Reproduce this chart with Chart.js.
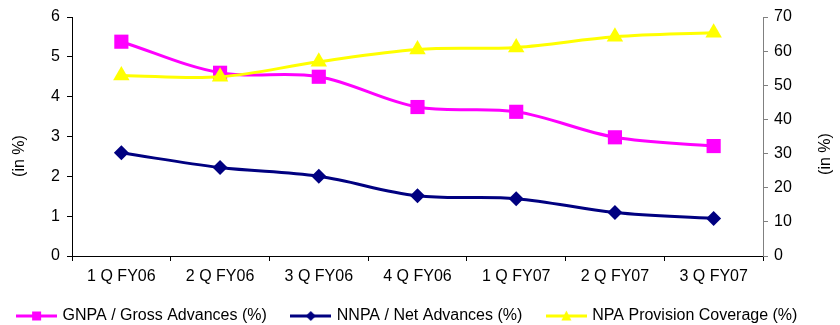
<!DOCTYPE html>
<html>
<head>
<meta charset="utf-8">
<script src="https://cdn.jsdelivr.net/npm/chart.js@4/dist/chart.umd.min.js"></script>
<style>
  html, body { margin: 0; padding: 0; background: #fff; }
  #wrap { width: 840px; height: 325px; }
</style>
</head>
<body>
<div id="wrap"><canvas id="c" width="840" height="325"></canvas></div>
<script>
// Quarter labels and series values
const quarters = ['1 Q FY06', '2 Q FY06', '3 Q FY06', '4 Q FY06', '1 Q FY07', '2 Q FY07', '3 Q FY07'];
const gnpaRatio = [5.38, 4.60, 4.50, 3.74, 3.62, 2.98, 2.76];          // left axis, %
const nnpaRatio = [2.59, 2.22, 2.00, 1.51, 1.44, 1.09, 0.94];          // left axis, %
const provisionCoverage = [52.9, 52.5, 56.9, 60.5, 61.1, 64.2, 65.4];  // right axis, %
const seriesNames = ['GNPA / Gross Advances (%)', 'NNPA / Net Advances (%)', 'NPA Provision Coverage (%)'];
const leftRange = [0, 6, 1];     // min, max, step
const rightRange = [0, 70, 10];  // min, max, step
const axisTitle = '(in %)';

const FONT = "'Liberation Sans', Arial, sans-serif";
const font16 = { family: FONT, size: 16 };

// Legend swatch: short line with the series marker in the middle
function swatch(color, shape) {
  const c = document.createElement('canvas');
  c.width = 41; c.height = 14;
  const g = c.getContext('2d');
  g.strokeStyle = color; g.fillStyle = color; g.lineWidth = 3;
  g.beginPath(); g.moveTo(0, 7); g.lineTo(41, 7); g.stroke();
  g.beginPath();
  if (shape === 'rect') {
    g.rect(16, 2.5, 9, 9);
  } else if (shape === 'diamond') {
    g.moveTo(20.5, 2); g.lineTo(25.5, 7); g.lineTo(20.5, 12); g.lineTo(15.5, 7); g.closePath();
  } else {
    g.moveTo(20.5, 1.5); g.lineTo(25.5, 11.5); g.lineTo(15.5, 11.5); g.closePath();
  }
  g.fill();
  return c;
}
const swatches = [swatch('#FF00FF', 'rect'), swatch('#000080', 'diamond'), swatch('#FFFF00', 'triangle')];

// Axis titles (reading bottom-to-top on both sides), label room and legend placement
const chartExtras = {
  id: 'chartExtras',
  afterLayout(chart) {
    const x = chart.scales.x;
    x.bottom = x.top + 34;           // room for the category labels below the axis
    const lg = chart.legend;
    lg.top += 9; lg.bottom += 9;
    lg.left -= 24;
  },
  afterDraw(chart) {
    const ctx = chart.ctx;
    ctx.save();
    ctx.font = '16px ' + FONT;
    ctx.fillStyle = '#000';
    ctx.textAlign = 'center';
    ctx.textBaseline = 'middle';
    [[20, 156], [826, 154]].forEach(([x, y]) => {
      ctx.save();
      ctx.translate(x, y);
      ctx.rotate(-Math.PI / 2);
      ctx.fillText(axisTitle, 0, 0);
      ctx.restore();
    });
    ctx.restore();
  }
};

new Chart(document.getElementById('c'), {
  type: 'line',
  data: {
    labels: quarters,
    datasets: [
      {
        label: seriesNames[0], data: gnpaRatio, yAxisID: 'y', order: 2,
        borderColor: '#FF00FF', backgroundColor: '#FF00FF', borderWidth: 3,
        pointStyle: 'rect', pointRadius: 10, pointBorderWidth: 0, tension: 0.35
      },
      {
        label: seriesNames[1], data: nnpaRatio, yAxisID: 'y', order: 1,
        borderColor: '#000080', backgroundColor: '#000080', borderWidth: 3,
        pointStyle: 'rectRot', pointRadius: 7.5, pointBorderWidth: 0, tension: 0.35
      },
      {
        label: seriesNames[2], data: provisionCoverage, yAxisID: 'y1', order: 0,
        borderColor: '#FFFF00', backgroundColor: '#FFFF00', borderWidth: 3,
        pointStyle: 'triangle', pointRadius: 9.5, pointBorderWidth: 0, tension: 0.35
      }
    ]
  },
  options: {
    responsive: false,
    animation: false,
    devicePixelRatio: 1,
    layout: { padding: { top: 17, left: 0, right: 0, bottom: 0 } },
    plugins: {
      tooltip: { enabled: false },
      legend: {
        position: 'bottom',
        labels: {
          font: font16, color: '#000',
          usePointStyle: true, pointStyleWidth: 36, padding: 26,
          sort: (a, b) => a.datasetIndex - b.datasetIndex,
          generateLabels(chart) {
            return Chart.defaults.plugins.legend.labels.generateLabels(chart).map(item => {
              item.pointStyle = swatches[item.datasetIndex];
              item.fontColor = '#000';
              return item;
            });
          }
        }
      }
    },
    scales: {
      x: {
        type: 'category',
        offset: true,
        grid: { offset: true, drawOnChartArea: false, drawTicks: true, tickLength: 5, color: '#000', lineWidth: 1 },
        border: { color: '#000', width: 1 },
        ticks: { font: font16, color: '#000', padding: 6, maxRotation: 0, autoSkip: false },
        afterFit(s) { s.height = 17; }
      },
      y: {
        position: 'left',
        min: leftRange[0], max: leftRange[1],
        grid: { drawOnChartArea: false, tickLength: 5, color: '#000', lineWidth: 1 },
        border: { color: '#000', width: 1 },
        ticks: { stepSize: leftRange[2], font: font16, color: '#000', padding: 7 },
        afterFit(s) { s.width = 72; }
      },
      y1: {
        position: 'right',
        min: rightRange[0], max: rightRange[1],
        grid: { drawOnChartArea: false, tickLength: 5, color: '#808080', lineWidth: 1 },
        border: { color: '#808080', width: 1 },
        ticks: { stepSize: rightRange[2], font: font16, color: '#000', padding: 6 },
        afterFit(s) { s.width = 77; }
      }
    }
  },
  plugins: [chartExtras]
});
</script>
</body>
</html>
